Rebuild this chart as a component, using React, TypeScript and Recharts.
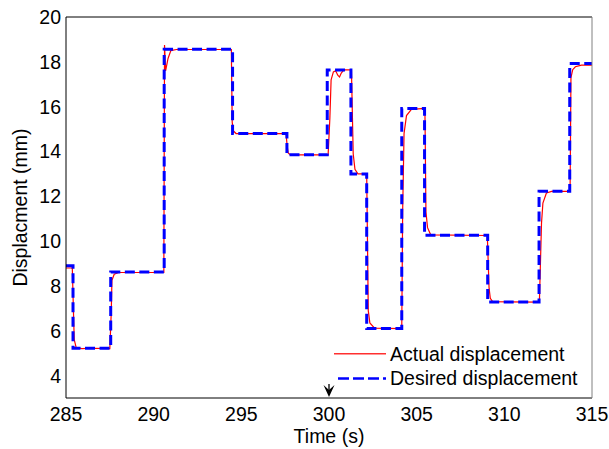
import React from 'react';
import { LineChart, Line, XAxis, YAxis, ReferenceDot } from 'recharts';

const FONT = '"Liberation Sans", Arial, Helvetica, sans-serif';

const xTicks = [285, 290, 295, 300, 305, 310, 315];
const yTicks = [4, 6, 8, 10, 12, 14, 16, 18, 20];
const xDomain = [285, 315];
const yDomain = [3, 20];

const seriesNames = ['Actual displacement', 'Desired displacement'];
const xTitle = 'Time (s)';
const yTitle = 'Displacment (mm)';
const markerTime = 300;

// Desired displacement: step changes (time of step, new level)
const desiredTime = [285, 285.4, 287.55, 290.6, 294.5, 297.6, 299.9, 301.25, 302.15, 304.15, 305.45, 309.05, 311.98, 313.73, 315];
const desiredDisp = [8.9, 5.22, 8.62, 18.56, 14.8, 13.85, 17.64, 13.0, 6.1, 15.92, 10.26, 7.28, 12.22, 17.92, 17.92];

// Actual displacement: traced points
const actualTime = [
  285, 285.36, 285.42, 285.47, 285.58, 285.9, 286.5, 287.5, 287.58, 287.62, 287.75, 288.0,
  290.58, 290.62, 290.68, 290.82, 290.98, 291.3, 294.43, 294.48, 294.55, 294.7,
  297.55, 297.62, 297.68, 297.8, 299.95, 300.05, 300.12, 300.25, 300.38, 300.5, 300.6, 300.7, 300.85,
  301.28, 301.38, 301.48, 301.65, 302.15, 302.24, 302.33, 302.6, 304.15, 304.2, 304.28,
  304.42, 304.7, 305.47, 305.53, 305.62, 305.8, 309.03, 309.13, 309.2, 309.33, 312.0,
  312.12, 312.2, 312.4, 312.7, 313.75, 313.8, 313.9, 314.05, 314.4, 315,
];
const actualDisp = [
  8.8, 8.8, 7.0, 5.6, 5.25, 5.2, 5.22, 5.2, 6.8, 8.25, 8.52, 8.6,
  8.6, 18.75, 17.6, 18.15, 18.5, 18.55, 18.55, 15.3, 14.92, 14.8,
  14.8, 14.2, 13.92, 13.85, 13.85, 15.5, 17.2, 17.55, 17.6, 17.4, 17.32, 17.5, 17.64,
  17.64, 13.9, 13.2, 13.0, 13.0, 6.9, 6.35, 6.12, 6.1, 11.3, 14.8,
  15.6, 15.88, 15.92, 11.3, 10.6, 10.28, 10.25, 7.9, 7.45, 7.3, 7.28,
  10.8, 11.7, 12.15, 12.22, 12.22, 17.3, 17.65, 17.78, 17.85, 17.85,
];

const actualData = actualTime.map((t, i) => ({ t, v: actualDisp[i] }));
const desiredData = desiredTime.map((t, i) => ({ t, v: desiredDisp[i] }));

const ArrowShape = (props: any) => {
  const { cx, cy } = props;
  if (cx == null || cy == null) return null;
  return (
    <g>
      <line x1={cx} x2={cx} y1={cy - 14} y2={cy - 3} stroke="#000" strokeWidth={1.3} />
      <path
        d={`M ${cx - 5.5} ${cy - 13} L ${cx} ${cy - 1} L ${cx + 5.5} ${cy - 13} L ${cx} ${cy - 8} Z`}
        fill="#000"
      />
    </g>
  );
};

const YTitle = (props: any) => {
  const vb = props.viewBox || { x: 0, y: 17, width: 66, height: 381 };
  const x = vb.x + 27;
  const y = vb.y + vb.height / 2;
  return (
    <text
      x={x}
      y={y}
      transform={`rotate(-90 ${x} ${y})`}
      textAnchor="middle"
      fill="#000"
      fontSize={19.5}
      fontFamily={FONT}
    >
      {yTitle}
    </text>
  );
};

export default function App() {
  const tickStyle = { fill: '#000', fontSize: 19.5, fontFamily: FONT };
  return (
    <div style={{ position: 'absolute', left: 0, top: 0, width: 609, height: 449, background: '#fff' }}>
      <LineChart width={609} height={449} margin={{ top: 17, right: 17, bottom: 0, left: 0 }}>
        <XAxis
          xAxisId="main"
          dataKey="t"
          type="number"
          domain={xDomain}
          ticks={xTicks}
          allowDataOverflow
          height={51}
          tickLine={false}
          tickSize={6}
          tickMargin={3}
          axisLine={{ stroke: '#000' }}
          tick={tickStyle}
          label={{ value: xTitle, position: 'insideBottom', offset: 6, fill: '#000', fontSize: 19.5, fontFamily: FONT }}
        />
        <XAxis
          xAxisId="bottomIn"
          orientation="bottom"
          mirror
          dataKey="t"
          type="number"
          domain={xDomain}
          ticks={xTicks}
          allowDataOverflow
          tick={false}
          axisLine={false}
          tickSize={5}
          tickLine={{ stroke: '#000' }}
        />
        <XAxis
          xAxisId="topIn"
          orientation="top"
          mirror
          dataKey="t"
          type="number"
          domain={xDomain}
          ticks={xTicks}
          allowDataOverflow
          tick={false}
          axisLine={{ stroke: '#000' }}
          tickSize={5}
          tickLine={{ stroke: '#000' }}
        />
        <YAxis
          yAxisId="main"
          type="number"
          domain={yDomain}
          ticks={yTicks}
          allowDataOverflow
          width={66}
          tickLine={false}
          tickSize={5}
          tickMargin={0}
          axisLine={{ stroke: '#000' }}
          tick={tickStyle}
          label={YTitle}
        />
        <YAxis
          yAxisId="leftIn"
          orientation="left"
          mirror
          type="number"
          domain={yDomain}
          ticks={yTicks}
          allowDataOverflow
          tick={false}
          axisLine={false}
          tickSize={5}
          tickLine={{ stroke: '#000' }}
        />
        <YAxis
          yAxisId="rightIn"
          orientation="right"
          mirror
          type="number"
          domain={yDomain}
          ticks={yTicks}
          allowDataOverflow
          tick={false}
          axisLine={{ stroke: '#808080' }}
          tickSize={5}
          tickLine={{ stroke: '#555' }}
        />
        <Line
          xAxisId="main"
          yAxisId="main"
          data={actualData}
          dataKey="v"
          name={seriesNames[0]}
          type="linear"
          stroke="#ff0000"
          strokeWidth={1.2}
          dot={false}
          activeDot={false}
          isAnimationActive={false}
        />
        <Line
          xAxisId="main"
          yAxisId="main"
          data={desiredData}
          dataKey="v"
          name={seriesNames[1]}
          type="stepAfter"
          stroke="#0000ff"
          strokeWidth={3}
          strokeDasharray="10 4.5"
          dot={false}
          activeDot={false}
          isAnimationActive={false}
        />
        <ReferenceDot
          xAxisId="main"
          yAxisId="main"
          x={markerTime}
          y={yDomain[0]}
          ifOverflow="visible"
          shape={ArrowShape}
        />
      </LineChart>
      <svg width={609} height={449} style={{ position: 'absolute', left: 0, top: 0, pointerEvents: 'none' }}>
        <rect x={334} y={353} width={52} height={1.5} fill="#ff3030" />
        <text x={390} y={360.5} fill="#000" fontSize={19.5} fontFamily={FONT}>{seriesNames[0]}</text>
        <line x1={338} x2={386} y1={378.5} y2={378.5} stroke="#0000ff" strokeWidth={2.5} strokeDasharray="11 4" />
        <text x={390} y={385} fill="#000" fontSize={19.5} fontFamily={FONT}>{seriesNames[1]}</text>
      </svg>
    </div>
  );
}
